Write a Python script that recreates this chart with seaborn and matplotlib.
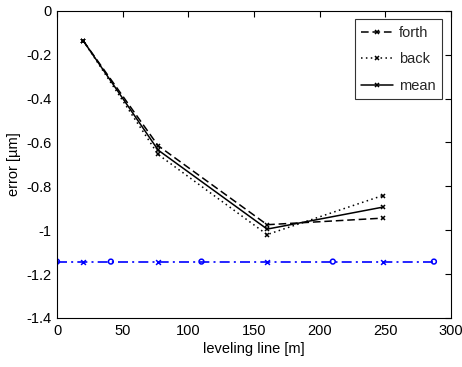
import numpy as np
import pandas as pd
import matplotlib
matplotlib.use("Agg")
import matplotlib.pyplot as plt
import seaborn as sns

# data
line_pos = [20, 77, 160, 248]
forth = [-0.137, -0.615, -0.975, -0.945]
back = [-0.137, -0.655, -1.020, -0.842]
mean = [-0.137, -0.635, -0.995, -0.895]
series_names = ["forth", "back", "mean"]
ref_level = -1.143
ref_x_marks = [20, 77, 160, 248]
ref_o_marks = [0, 41, 110, 210, 287]
x_ticks = [0, 50, 100, 150, 200, 250, 300]
y_ticks = [0, -0.2, -0.4, -0.6, -0.8, -1, -1.2, -1.4]

sns.set_theme(style="white")
plt.rcParams['font.family'] = ['Liberation Sans', 'DejaVu Sans']
plt.rcParams['axes.unicode_minus'] = False

fig = plt.figure(figsize=(4.62, 3.67), dpi=100)
ax = fig.add_axes([57/462, 1-318/367, (451-57)/462, (318-10.7)/367])

long = pd.DataFrame({
    "x": line_pos * 3,
    "y": forth + back + mean,
    "series": [n for n in series_names for _ in line_pos],
})

sns.lineplot(data=long, x="x", y="y", style="series", ax=ax,
             color="black", lw=1.1, sort=False,
             dashes={"forth": (5, 2.5), "back": (1, 2.2), "mean": ""},
             markers={"forth": "x", "back": "x", "mean": "x"},
             markersize=3.5, markeredgewidth=1.1, markeredgecolor="black")

ref_all = sorted(ref_x_marks + ref_o_marks)
ref_df = pd.DataFrame({"x": ref_all, "y": [ref_level] * len(ref_all)})
sns.lineplot(data=ref_df, x="x", y="y", ax=ax, color="blue", lw=1.2,
             linestyle=(0, (6, 2.5, 1.2, 2.5)), legend=False, sort=False)
sns.scatterplot(x=ref_x_marks, y=[ref_level] * len(ref_x_marks), ax=ax,
                marker="x", color="blue", s=12, linewidth=1.1, legend=False)
sns.scatterplot(x=ref_o_marks, y=[ref_level] * len(ref_o_marks), ax=ax,
                marker="o", facecolor="none", edgecolor="blue", s=12,
                linewidth=1.1, legend=False)

ax.set_xlim(0, 300)
ax.set_ylim(-1.4, 0)
ax.set_xticks(x_ticks)
ax.set_yticks(y_ticks)
ax.set_xticklabels([f"{v:g}" for v in x_ticks])
ax.set_yticklabels([f"{v:g}" for v in y_ticks])
ax.tick_params(direction="in", length=4, width=0.8, top=True, right=True,
               labelsize=10.5, colors="black", pad=4)
for s in ax.spines.values():
    s.set_color("black")
    s.set_linewidth(0.8)
    s.set_visible(True)

ax.set_xlabel("leveling line [m]", fontsize=10.5, color="black", labelpad=3)
ax.set_ylabel("error [\u00b5m]", fontsize=10.5, color="black", labelpad=4)

handles, labels = ax.get_legend_handles_labels()
leg = ax.legend(handles, labels, loc="upper right", fontsize=10.5,
                frameon=True, fancybox=False, edgecolor="black",
                handlelength=2.2, handletextpad=0.4, borderpad=0.45,
                labelspacing=0.85, borderaxespad=0.6)
leg.get_frame().set_linewidth(0.8)

fig.savefig("out.png", dpi=100)
